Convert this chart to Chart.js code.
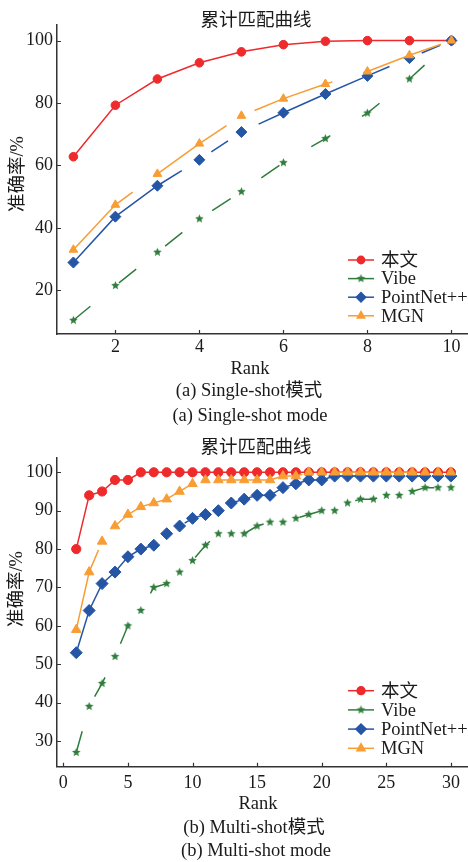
<!DOCTYPE html>
<html>
<head>
<meta charset="utf-8">
<script src="https://cdn.jsdelivr.net/npm/chart.js@4.4.1/dist/chart.umd.min.js"></script>
<style>
  body { margin: 0; width: 468px; height: 862px; background: #fff; position: relative; overflow: hidden;
         font-family: "Liberation Serif", "Noto Sans CJK SC", serif; color: #1a1a1a; }
  canvas { position: absolute; left: 0; }
  .t { position: absolute; white-space: nowrap; transform: translate(-50%, -50%); font-size: 18.5px; line-height: 1; }
  .cjk { font-family: "Noto Sans CJK SC", sans-serif; }
  .yl { transform: translate(-50%, -50%) rotate(-90deg); }
</style>
</head>
<body>
<canvas id="single" width="476" height="380" style="top:0"></canvas>
<canvas id="multi" width="476" height="380" style="top:430px"></canvas>

<div class="t cjk" style="left:256px;top:18px">累计匹配曲线</div>
<div class="t yl" style="left:16.5px;top:174px">准确率/%</div>
<div class="t" style="left:250px;top:368px">Rank</div>
<div class="t" style="left:249px;top:390px">(a) Single-shot模式</div>
<div class="t" style="left:250px;top:415px">(a) Single-shot mode</div>

<div class="t cjk" style="left:256px;top:445px">累计匹配曲线</div>
<div class="t yl" style="left:16px;top:589px">准确率/%</div>
<div class="t" style="left:258px;top:803px">Rank</div>
<div class="t" style="left:254px;top:827px">(b) Multi-shot模式</div>
<div class="t" style="left:256px;top:850px">(b) Multi-shot mode</div>

<script>
// 数据
const seriesNames = ['本文', 'Vibe', 'PointNet++', 'MGN'];

const singleRanks = [1, 2, 3, 4, 5, 6, 7, 8, 9, 10];
const singleOurs = [62.8, 79.3, 87.7, 92.9, 96.4, 98.7, 99.8, 100, 100, 100];
const singleVibe = [10.4, 21.5, 32.2, 42.9, 51.6, 60.9, 68.6, 76.8, 87.7, 100];
const singlePointNet = [28.9, 43.6, 53.5, 61.8, 70.7, 76.9, 82.9, 88.7, 94.4, 100];
const singleMGN = [33.0, 47.4, 57.3, 67.0, 75.9, 81.4, 86.1, 90.1, 95.3, 100];
const singleXTicks = [2, 4, 6, 8, 10];
const singleYTicks = [20, 40, 60, 80, 100];

const multiRanks = [1, 2, 3, 4, 5, 6, 7, 8, 9, 10, 11, 12, 13, 14, 15,
                    16, 17, 18, 19, 20, 21, 22, 23, 24, 25, 26, 27, 28, 29, 30];
const multiOurs = [80, 94, 95, 98, 98, 100, 100, 100, 100, 100, 100, 100, 100, 100, 100,
                   100, 100, 100, 100, 100, 100, 100, 100, 100, 100, 100, 100, 100, 100, 100];
const multiVibe = [27, 39, 45, 52, 60, 64, 70, 71, 74, 77, 81, 84, 84, 84, 86,
                   87, 87, 88, 89, 90, 90, 92, 93, 93, 94, 94, 95, 96, 96, 96];
const multiPointNet = [53, 64, 71, 74, 78, 80, 81, 84, 86, 88, 89, 90, 92, 93, 94,
                       94, 96, 97, 98, 98, 99, 99, 99, 99, 99, 99, 99, 99, 99, 99];
const multiMGN = [59, 74, 82, 86, 89, 91, 92, 93, 95, 97, 98, 98, 98, 98, 98,
                  98, 99, 99, 100, 100, 100, 100, 100, 100, 100, 100, 100, 100, 100, 100];
const multiXTicks = [0, 5, 10, 15, 20, 25, 30];
const multiYTicks = [30, 40, 50, 60, 70, 80, 90, 100];

// 样式
const colors = ['#ee2a2c', '#2f7d3c', '#2556a6', '#f89d34'];
const dashes = [[], [22, 37], [143, 35, 20, 35], [83, 32]];
const axisColor = '#333';
const textColor = '#1a1a1a';
const serif = '"Liberation Serif", "Noto Sans CJK SC", serif';

function starImage(color, r) {
    const c = document.createElement('canvas');
    const s = Math.ceil(r * 2) + 2;
    c.width = c.height = s;
    const g = c.getContext('2d');
    g.fillStyle = color;
    g.beginPath();
    for (let i = 0; i < 10; i++) {
        const rr = i % 2 ? r * 0.45 : r;
        const a = -Math.PI / 2 + i * Math.PI / 5;
        g.lineTo(s / 2 + rr * Math.cos(a), s / 2 + rr * Math.sin(a));
    }
    g.closePath();
    g.fill();
    return c;
}

// 坐标轴内向刻度
const innerTicks = {
    id: 'innerTicks',
    afterDraw(chart) {
        const { ctx, chartArea: a, scales: { x, y } } = chart;
        ctx.save();
        ctx.strokeStyle = axisColor;
        ctx.lineWidth = 1.2;
        ctx.beginPath();
        x.ticks.forEach(t => {
            const px = Math.round(x.getPixelForValue(t.value)) + 0.5;
            ctx.moveTo(px, a.bottom);
            ctx.lineTo(px, a.bottom - 4);
        });
        y.ticks.forEach(t => {
            const py = Math.round(y.getPixelForValue(t.value)) + 0.5;
            ctx.moveTo(a.left, py);
            ctx.lineTo(a.left + 4, py);
        });
        ctx.stroke();
        ctx.restore();
    }
};

// 图例: 线 + 标记 + 文字
const lineLegend = {
    id: 'lineLegend',
    afterDraw(chart, args, opts) {
        const ctx = chart.ctx;
        ctx.save();
        chart.data.datasets.forEach((ds, i) => {
            const y = opts.y + i * opts.step;
            ctx.strokeStyle = ds.borderColor;
            ctx.fillStyle = ds.borderColor;
            ctx.lineWidth = 1.5;
            ctx.setLineDash([]);
            ctx.beginPath();
            ctx.moveTo(opts.x, y);
            ctx.lineTo(opts.x + 26, y);
            ctx.stroke();
            const ps = { pointStyle: ds.pointStyle, radius: ds.pointRadius * 0.85, rotation: 0, borderWidth: 1 };
            if (Chart.helpers && Chart.helpers.drawPoint) {
                Chart.helpers.drawPoint(ctx, ps, opts.x + 13, y);
            } else {
                ctx.beginPath();
                ctx.arc(opts.x + 13, y, ps.radius, 0, Math.PI * 2);
                ctx.fill();
            }
            ctx.fillStyle = textColor;
            ctx.font = '18.5px ' + serif;
            ctx.textBaseline = 'middle';
            ctx.textAlign = 'left';
            ctx.fillText(ds.label, opts.x + 33, y + 1);
        });
        ctx.restore();
    }
};

function buildDatasets(ranks, seriesList, sizes) {
    const styles = ['circle', starImage(colors[1], sizes[1]), 'rectRot', 'triangle'];
    const order = [3, 2, 1, 0];
    return seriesList.map((vals, i) => ({
        label: seriesNames[i],
        data: ranks.map((r, k) => ({ x: r, y: vals[k] })),
        borderColor: colors[i],
        backgroundColor: colors[i],
        borderWidth: 1.5,
        borderDash: dashes[i],
        pointStyle: styles[i],
        pointRadius: sizes[i],
        pointBorderWidth: 1,
        pointBackgroundColor: colors[i],
        pointBorderColor: colors[i],
        tension: 0,
        fill: false,
        order: order[i]
    }));
}

function axis(min, max, ticks, fit, pad) {
    return {
        type: 'linear', min, max,
        afterBuildTicks: s => { s.ticks = ticks.map(v => ({ value: v })); },
        afterFit: fit,
        grid: { display: false, drawTicks: false },
        border: { display: true, color: axisColor, width: 1.5 },
        ticks: { color: textColor, font: { family: serif, size: 18 }, padding: pad, maxRotation: 0, autoSkip: false }
    };
}

function makeChart(id, cfg) {
    return new Chart(document.getElementById(id), {
        type: 'line',
        data: { datasets: buildDatasets(cfg.ranks, cfg.series, cfg.sizes) },
        options: {
            responsive: false,
            animation: false,
            events: [],
            layout: { padding: { top: cfg.top, right: 0, bottom: 0, left: 0 } },
            scales: {
                x: axis(cfg.xMin, cfg.xMax, cfg.xTicks, s => { s.height = cfg.xHeight; }, cfg.xPad),
                y: axis(cfg.yMin, cfg.yMax, cfg.yTicks, s => { s.width = 57; }, 4)
            },
            plugins: {
                legend: { display: false },
                title: { display: false },
                tooltip: { enabled: false },
                lineLegend: cfg.legend
            }
        },
        plugins: [innerTicks, lineLegend]
    });
}

makeChart('single', {
    ranks: singleRanks,
    series: [singleOurs, singleVibe, singlePointNet, singleMGN],
    sizes: [4.3, 4.5, 5.5, 5],
    xMin: 0.61, xMax: 10.43, xTicks: singleXTicks, xPad: 2,
    yMin: 6, yMax: 105, yTicks: singleYTicks,
    top: 25, xHeight: 46,
    legend: { x: 348, y: 260, step: 18.6 }
});

makeChart('multi', {
    ranks: multiRanks,
    series: [multiOurs, multiVibe, multiPointNet, multiMGN],
    sizes: [4.6, 4.5, 6, 5.5],
    xMin: -0.49, xMax: 31.4, xTicks: multiXTicks, xPad: 6,
    yMin: 23.3, yMax: 103.8, yTicks: multiYTicks,
    top: 27.7, xHeight: 43.3,
    legend: { x: 348, y: 260.7, step: 19.2 }
});
</script>
</body>
</html>
